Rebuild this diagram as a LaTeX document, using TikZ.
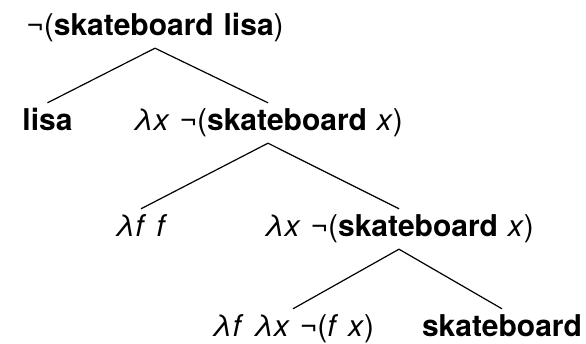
\documentclass[tikz,border=0pt]{standalone}
\usepackage{fontspec}
\setmainfont{TeX Gyre Heros}
\usepackage{tikz}
\newcommand{\termfont}{\fontsize{30}{36}\selectfont\spaceskip=0.33em\relax}

\begin{document}
\begin{tikzpicture}[x=1pt, y=-1pt,
      term/.style={anchor=base, inner sep=5pt, text height=23pt,
                   text depth=7pt, font=\termfont},
      branch/.style={line width=1.2pt}]
    \useasboundingbox (0,0) rectangle (586,344);
    \node[term] (root) at (155,36) {¬(\textbf{skateboard lisa})};
    \node[term] (lisa) at (47.5,131) {\textbf{lisa}};
    \node[term] (vp) at (268,131) {\textit{λx} ¬(\textbf{skateboard} \textit{x})};
    \node[term] (id) at (141,237) {\textit{λf} \textit{f}};
    \node[term] (pred) at (399,237) {\textit{λx} ¬(\textbf{skateboard} \textit{x})};
    \node[term] (neg) at (293,337) {\textit{λf} \textit{λx} ¬(\textit{f} \textit{x})};
    \node[term] (skate) at (502,337) {\textbf{skateboard}};
    % Verzweigungen
    \draw[branch] (lisa.north) -- (root.south) -- (vp.north);
    \draw[branch] (id.north) -- (vp.south) -- (pred.north);
    \draw[branch] (neg.north) -- (pred.south) -- (skate.north);
\end{tikzpicture}
\end{document}
